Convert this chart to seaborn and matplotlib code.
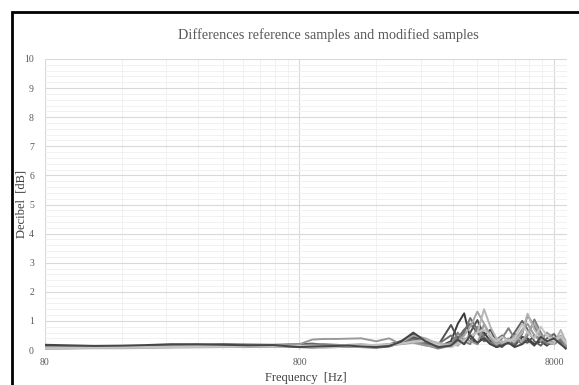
import numpy as np
import pandas as pd
import matplotlib
matplotlib.use("Agg")
import matplotlib.pyplot as plt
import seaborn as sns
from matplotlib.ticker import FixedLocator, MultipleLocator, NullFormatter
from matplotlib.patches import Rectangle

freq = [80, 100, 125, 160, 200, 250, 315, 400, 500, 630, 800, 900, 1000, 1120, 1250,
        1400, 1600, 1800, 2000, 2240, 2500, 2800, 3150, 3350, 3550, 3750, 4000, 4250,
        4500, 4750, 5000, 5300, 5600, 6000, 6300, 6700, 7100, 7500, 8000, 8500, 8900]

s1 = [0.15,0.12,0.10,0.10,0.12,0.14,0.15,0.14,0.13,0.14,0.18,0.12,0.10,0.10,0.12,0.14,0.12,0.15,0.30,0.55,0.35,0.10,0.30,0.90,1.26,0.40,0.20,0.60,0.30,0.10,0.20,0.35,0.15,0.45,0.40,0.20,0.30,0.15,0.35,0.45,0.05]
s2 = [0.10,0.08,0.08,0.10,0.12,0.15,0.16,0.18,0.17,0.16,0.12,0.15,0.15,0.13,0.12,0.10,0.08,0.12,0.25,0.45,0.30,0.15,0.86,0.40,0.20,0.60,1.03,0.50,0.70,0.30,0.15,0.30,0.55,0.30,0.25,0.50,0.35,0.20,0.25,0.30,0.10]
s3 = [0.08,0.10,0.12,0.12,0.14,0.16,0.18,0.20,0.19,0.18,0.20,0.22,0.18,0.16,0.15,0.14,0.16,0.20,0.30,0.40,0.25,0.10,0.20,0.40,0.70,0.90,0.60,0.30,0.40,0.20,0.10,0.30,0.60,1.00,0.70,0.30,0.15,0.40,0.55,0.25,0.10]
s4 = [0.12,0.10,0.09,0.08,0.09,0.10,0.12,0.13,0.14,0.13,0.10,0.08,0.10,0.12,0.14,0.16,0.15,0.18,0.25,0.35,0.20,0.20,0.50,0.30,0.60,1.10,0.70,0.40,0.20,0.35,0.50,0.30,0.20,0.55,1.20,0.80,0.40,0.20,0.30,0.40,0.15]
s5 = [0.05,0.06,0.08,0.10,0.11,0.12,0.12,0.11,0.10,0.12,0.15,0.18,0.20,0.18,0.15,0.12,0.10,0.14,0.22,0.30,0.18,0.05,0.15,0.60,0.30,0.20,0.80,0.45,0.25,0.15,0.40,0.75,0.40,0.20,0.50,1.05,0.60,0.25,0.20,0.35,0.10]
s6 = [0.10,0.08,0.07,0.08,0.10,0.12,0.13,0.14,0.15,0.16,0.20,0.36,0.38,0.38,0.39,0.40,0.30,0.40,0.20,0.25,0.15,0.10,0.25,0.15,0.40,0.30,0.20,0.90,0.50,0.30,0.20,0.40,0.30,0.70,0.90,0.50,0.30,0.60,0.40,0.20,0.10]
s7 = [0.07,0.08,0.09,0.10,0.10,0.11,0.12,0.12,0.13,0.15,0.12,0.10,0.12,0.15,0.18,0.20,0.16,0.18,0.25,0.50,0.40,0.20,0.10,0.30,0.50,0.80,1.32,0.90,0.40,0.20,0.30,0.20,0.50,0.30,0.60,0.90,0.50,0.30,0.25,0.50,0.20]
s8 = [0.04,0.05,0.06,0.06,0.07,0.08,0.09,0.10,0.12,0.12,0.15,0.10,0.08,0.10,0.12,0.10,0.12,0.16,0.20,0.30,0.35,0.25,0.15,0.25,0.35,0.50,0.60,1.40,0.80,0.40,0.25,0.35,0.30,0.60,1.25,0.70,0.40,0.30,0.20,0.69,0.30]
s9 = [0.06,0.07,0.08,0.09,0.10,0.10,0.11,0.12,0.12,0.13,0.14,0.15,0.13,0.12,0.14,0.16,0.18,0.20,0.22,0.28,0.30,0.18,0.10,0.20,0.30,0.45,0.60,0.70,0.50,0.30,0.45,0.30,0.40,0.90,0.60,0.40,0.80,0.50,0.30,0.45,0.25]
s10 = [0.18,0.16,0.14,0.15,0.17,0.20,0.20,0.18,0.16,0.17,0.10,0.12,0.13,0.14,0.15,0.12,0.10,0.14,0.28,0.60,0.30,0.10,0.15,0.35,0.20,0.50,0.25,0.40,0.20,0.10,0.15,0.25,0.10,0.20,0.35,0.15,0.45,0.30,0.40,0.20,0.05]

series = {"S1": s1, "S2": s2, "S3": s3, "S4": s4, "S5": s5,
          "S6": s6, "S7": s7, "S8": s8, "S9": s9, "S10": s10}
grays = ["#3a3a3a", "#505050", "#606060", "#707070", "#808080",
         "#999999", "#a5a5a5", "#b5b5b5", "#c4c4c4", "#464646"]

major_x = [80, 800, 8000]
minor_x = [160, 240, 320, 400, 480, 560, 640, 720,
           1600, 2400, 3200, 4000, 4800, 5600, 6400, 7200]

df = pd.concat([pd.DataFrame({"freq": freq, "db": v, "series": k}) for k, v in series.items()])

sns.set_style("white")
plt.rcParams["font.family"] = ["Liberation Serif", "DejaVu Serif"]

fig = plt.figure(figsize=(5.79, 3.85), dpi=100)
ax = fig.add_axes([45/579, 1-350/385, (567-45)/579, (350-59)/385])

sns.lineplot(data=df, x="freq", y="db", hue="series", palette=grays, ax=ax,
             linewidth=1.4, legend=False, sort=True, estimator=None)

ax.set_xscale("log")
ax.set_xlim(80, 9000)
ax.set_ylim(0, 10)
ax.xaxis.set_major_locator(FixedLocator(major_x))
ax.xaxis.set_minor_locator(FixedLocator(minor_x))
ax.xaxis.set_minor_formatter(NullFormatter())
ax.set_xticklabels([str(v) for v in major_x])
ax.yaxis.set_major_locator(MultipleLocator(1))
ax.yaxis.set_minor_locator(MultipleLocator(0.2))

ax.grid(which="major", color="#d9d9d9", linewidth=0.8)
ax.grid(which="minor", color="#efefef", linewidth=0.6)
ax.set_axisbelow(True)
for sp in ax.spines.values():
    sp.set_visible(False)
ax.tick_params(which="both", length=0, labelsize=7, colors="#595959")
ax.tick_params(axis="y", pad=8)
ax.tick_params(axis="x", pad=6)

ax.set_xlabel("Frequency  [Hz]", fontsize=9, color="#404040", labelpad=3)
ax.set_ylabel("Decibel  [dB]", fontsize=9, color="#404040")
ax.yaxis.set_label_coords((27 - 45) / 522, 0.5)

fig.text(328/579, 1-35/385, "Differences reference samples and modified samples",
         ha="center", va="center", fontsize=10.3, color="#595959")

fig.patches.append(Rectangle((12/579, -0.2), 1.5, 1.2 - 12/385, transform=fig.transFigure,
                             fill=False, edgecolor="black", linewidth=2))

fig.savefig("out.png", dpi=100)
